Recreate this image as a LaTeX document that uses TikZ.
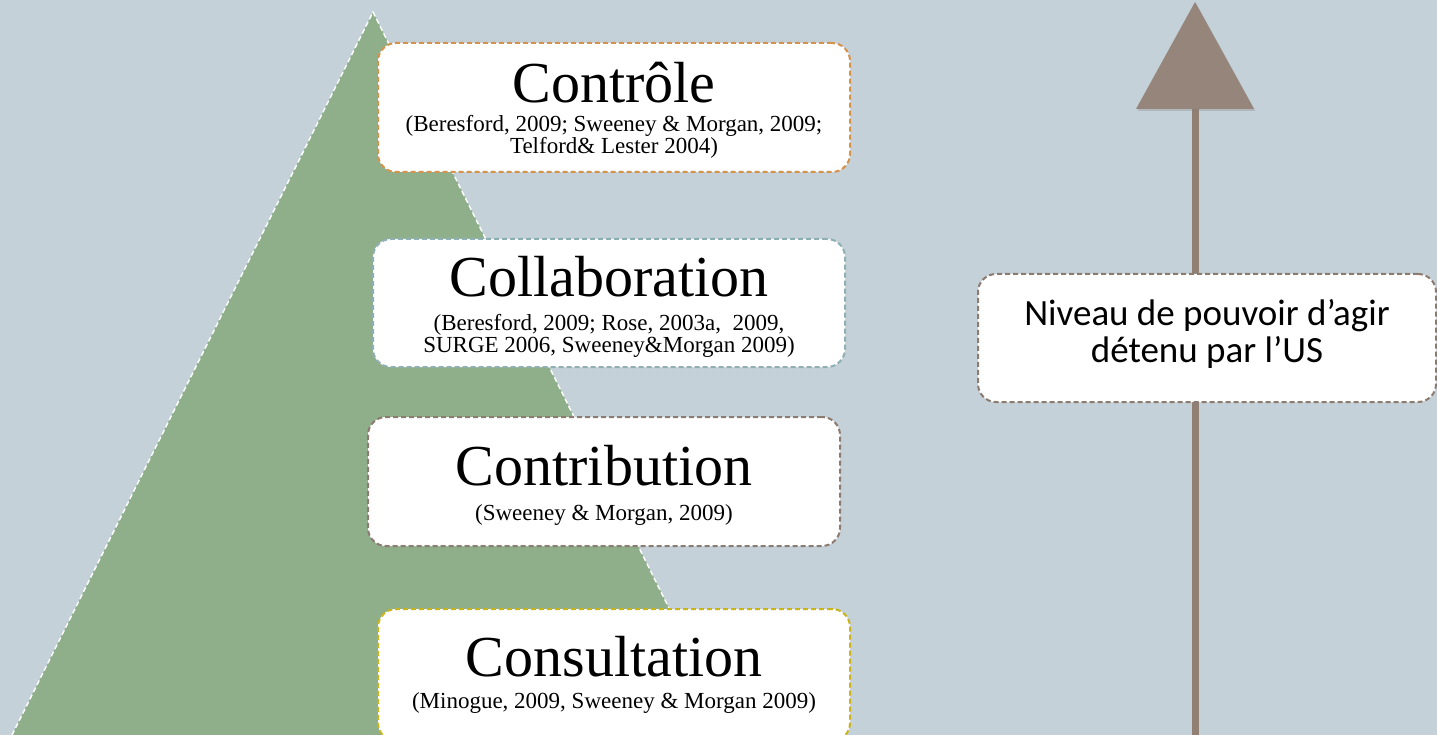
\documentclass[tikz,border=0pt]{standalone}
\usepackage{fontspec}
\setmainfont{Liberation Serif}
\newfontfamily\calib{Carlito}
\usetikzlibrary{shadows}
\definecolor{bg}{HTML}{C5D1D8}
\definecolor{pyr}{HTML}{8FAF8A}
\definecolor{cOrange}{HTML}{D4924A}
\definecolor{cTeal}{HTML}{8FB0B3}
\definecolor{cBrown}{HTML}{8C7B70}
\definecolor{cGold}{HTML}{C9B41A}
\definecolor{arr}{HTML}{917F73}
\newcommand{\titlef}{\fontsize{58}{60}\selectfont}
\newcommand{\citef}{\fontsize{23}{22}\selectfont}
\begin{document}
\begin{tikzpicture}[x=1pt,y=-1pt,
  levelbox/.style={draw=#1, fill=white, dash pattern=on 5pt off 3pt, line width=2pt,
    rounded corners=18pt, minimum width=472pt, minimum height=129pt, inner sep=0pt},
  leveltext/.style={align=center, inner sep=0pt, font=\citef},
  pyredge/.style={draw=white, line width=1.4pt, dash pattern=on 5pt off 3pt},
  arrowcol/.style={arr}]
\useasboundingbox (0,0) rectangle (1437,735);
\clip (0,0) rectangle (1437,735);
\fill[bg] (0,0) rectangle (1437,735);
% pyramid
\coordinate (apex) at (373,12);
\coordinate (bl) at (12,735);
\coordinate (br) at (732,735);
\fill[pyr] (apex) -- (br) -- (bl) -- cycle;
\draw[pyredge] (bl) -- (apex) -- (br);
% level boxes
\node[levelbox=cOrange] (controle) at (614,107.5) {};
\node[leveltext] (controleT) at ([yshift=-3pt]controle.center)
  {{\titlef Contrôle}\\[7pt](Beresford, 2009; Sweeney \& Morgan, 2009;\\Telford\& Lester 2004)};
\node[levelbox=cTeal, minimum height=128pt] (collab) at (609,303) {};
\node[leveltext] (collabT) at ([yshift=-3.5pt]collab.center)
  {{\titlef Collaboration}\\[12pt]\fontsize{23}{20}\selectfont(Beresford, 2009; Rose, 2003a,\ \ 2009,\\SURGE 2006, Sweeney\&Morgan 2009)};
\node[levelbox=cBrown] (contrib) at (604,481.5) {};
\node[leveltext] (contribT) at ([yshift=-3.5pt]contrib.center)
  {{\titlef Contribution}\\[13pt](Sweeney \& Morgan, 2009)};
\node[levelbox=cGold, minimum height=132pt] (consult) at (614,675) {};
\node[leveltext] (consultT) at ([yshift=0pt]consult.center)
  {{\titlef Consultation}\\[10pt](Minogue, 2009, Sweeney \& Morgan 2009)};
% arrow
\coordinate (abot) at (1195.5,745);
\coordinate (abase) at (1195.5,105);
\coordinate (atip) at (1195,2);
\coordinate (aleft) at (1136,109);
\coordinate (aright) at (1254,109);
\draw[arrowcol, line width=7pt] (abot) -- (abase);
\fill[arr!95!white, drop shadow={opacity=0.3, shadow xshift=1.5pt, shadow yshift=-2pt}] (atip) -- (aright) -- (aleft) -- cycle;
\node[draw=cBrown, fill=white, dash pattern=on 5pt off 3pt, line width=2pt,
  rounded corners=18pt, minimum width=458pt, minimum height=128pt, inner sep=0pt] (niveau) at (1207,338) {};
\node[align=center, inner sep=0pt, font=\calib\fontsize{37}{37}\selectfont] (niveauT)
  at ([yshift=4pt]niveau.center) {Niveau de pouvoir d’agir\\détenu par l’US};
\end{tikzpicture}
\end{document}
